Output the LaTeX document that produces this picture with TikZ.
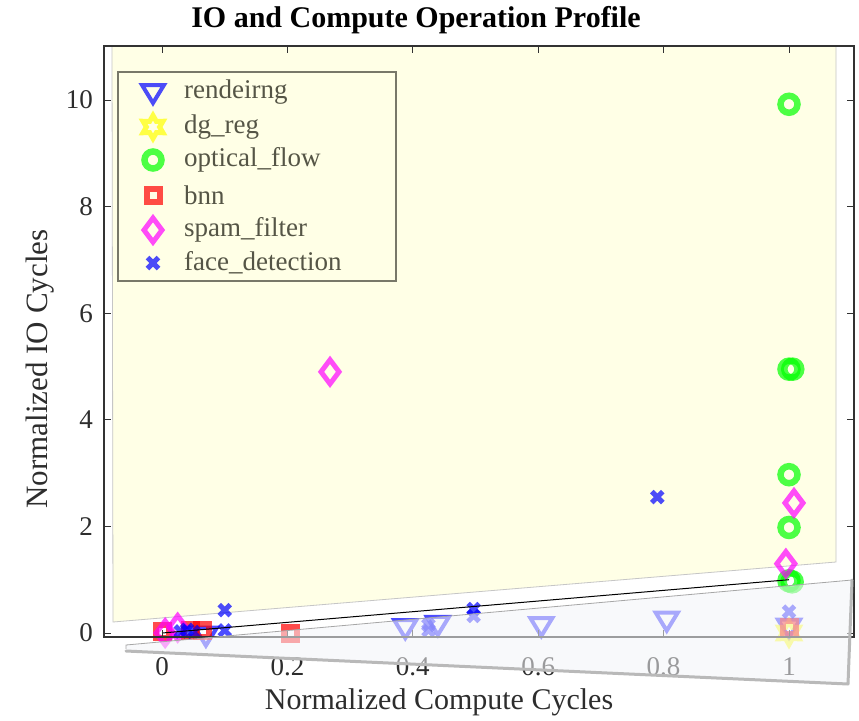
\documentclass[tikz,border=0pt]{standalone}
\usepackage{fontspec}
\setmainfont{Liberation Serif}
\definecolor{paleyellow}{RGB}{255,255,230}
\definecolor{sheetgray}{RGB}{244,245,248}
\definecolor{axcol}{RGB}{50,50,50}
\definecolor{labcol}{RGB}{45,45,45}
\definecolor{legtext}{RGB}{85,85,70}
\definecolor{legedge}{RGB}{120,120,105}
\definecolor{mkblue}{RGB}{0,0,255}
\definecolor{mkgreen}{RGB}{0,255,0}
\definecolor{mkred}{RGB}{255,0,0}
\definecolor{mkmag}{RGB}{255,0,255}
\definecolor{mkyel}{RGB}{255,255,0}
\tikzset{
  mk/.style={line width=#1, draw opacity=0.7, line join=miter},
  pics/tri/.style={code={\draw[mkblue, mk=4pt] (-11pt,7pt) -- (11pt,7pt) -- (0pt,-11pt) -- cycle;}},
  pics/hexa/.style={code={\draw[mkyel, mk=5pt] (90:11.5pt) -- (60:6.6pt) -- (30:11.5pt) -- (0:6.6pt) -- (-30:11.5pt) -- (-60:6.6pt) -- (-90:11.5pt) -- (-120:6.6pt) -- (-150:11.5pt) -- (180:6.6pt) -- (150:11.5pt) -- (120:6.6pt) -- cycle;}},
  pics/circ/.style={code={\draw[mkgreen, mk=6.5pt] (0pt,0pt) circle (8.5pt);}},
  pics/sqr/.style={code={\draw[mkred, mk=6pt] (-6.5pt,-6.5pt) rectangle (6.5pt,6.5pt);}},
  pics/dia/.style={code={\draw[mkmag, mk=5pt] (0pt,12pt) -- (9pt,0pt) -- (0pt,-12pt) -- (-9pt,0pt) -- cycle;}},
  pics/xmk/.style={code={\draw[mkblue, mk=5pt] (-5.5pt,-5.5pt) -- (5.5pt,5.5pt) (-5.5pt,5.5pt) -- (5.5pt,-5.5pt);}},
  ticklab/.style={font=\fontsize{27}{32}\selectfont, text=labcol, inner sep=0pt},
  axlab/.style={font=\fontsize{30}{36}\selectfont, text=labcol, inner sep=0pt},
  legtxt/.style={font=\fontsize{27}{32}\selectfont, text=legtext, anchor=west, inner sep=0pt}
}
\begin{document}
\begin{tikzpicture}[x=1pt,y=-1pt]
\useasboundingbox (0,0) rectangle (859,720);
\fill[white] (0,0) rectangle (859,720);

% shaded region above the diagonal
\filldraw[fill=paleyellow, draw=gray!45, line width=0.8pt]
  (112,46) -- (836,46) -- (836,562) -- (113,622) -- cycle;

% data area: origin at (0,0), unit square up to (1,1)
\begin{scope}[shift={(162,633)}, x={(627pt,0pt)}, y={(0pt,53.3pt)}]
  \coordinate (o) at (0,0);
  \coordinate (e) at (1,1);
  % rendeirng
  \foreach \p in {(0.07,-0.03),(0.388,0.11),(0.44,0.17),(0.605,0.15),(0.805,0.25),(1.0,0.12)}
    \pic at \p {tri};
  % dg_reg
  \pic at (1.0,0.0) {hexa};
  % optical_flow
  \foreach \p in {(1.0,9.92),(1.0,4.95),(1.006,4.95),(1.0,2.97),(1.0,1.98),(1.0,0.98),(1.005,0.96)}
    \pic at \p {circ};
  % bnn
  \foreach \p in {(0.0,0.02),(0.045,0.05),(0.065,0.05),(0.205,0.0),(1.0,0.1)}
    \pic at \p {sqr};
  % spam_filter
  \foreach \p in {(0.005,0.0),(0.025,0.1),(0.268,4.9),(1.008,2.44),(0.995,1.3)}
    \pic at \p {dia};
  % face_detection
  \foreach \p in {(0.03,0.03),(0.04,0.06),(0.05,0.02),(0.1,0.43),(0.1,0.05),(0.425,0.05),(0.425,0.15),(0.497,0.45),(0.497,0.32),(0.79,2.55),(1.0,0.4)}
    \pic at \p {xmk};
  % identity line
  \draw[black, line width=1pt] (o) -- (e);
\end{scope}

% axes box and ticks
\draw[axcol, line width=1.2pt] (104,46) rectangle (854,637);
\foreach \k/\t in {0/0,1/0.2,2/0.4,3/0.6,4/0.8,5/1} {
  \pgfmathsetmacro{\xx}{162+125.4*\k}
  \draw[axcol, line width=1pt] (\xx,637) -- (\xx,630) (\xx,46) -- (\xx,53);
  \node[ticklab] (xt\k) at (\xx,667) {\t};
}
\foreach \k/\t in {0/0,1/2,2/4,3/6,4/8,5/10} {
  \pgfmathsetmacro{\yy}{633-106.6*\k}
  \draw[axcol, line width=1pt] (104,\yy) -- (111,\yy) (854,\yy) -- (847,\yy);
  \node[ticklab, anchor=east] (yt\k) at (93,\yy) {\t};
}

% legend
\draw[fill=paleyellow, draw=legedge, line width=1.2pt] (118,72) rectangle (396,281);
\pic at (153,92) {tri};
\node[legtxt] (l1) at (184,92) {rendeirng};
\pic at (153,127) {hexa};
\node[legtxt] (l2) at (184,127) {dg\_reg};
\pic at (153,160) {circ};
\node[legtxt] (l3) at (184,160) {optical\_flow};
\pic at (153,195) {sqr};
\node[legtxt] (l4) at (184,195) {bnn};
\pic at (153,230) {dia};
\node[legtxt] (l5) at (184,230) {spam\_filter};
\pic at (153,263) {xmk};
\node[legtxt] (l6) at (184,263) {face\_detection};

% axis labels and title
\node[axlab] (xlab) at (439,702) {Normalized Compute Cycles};
\node[axlab, font=\fontsize{31}{36}\selectfont, rotate=90] (ylab) at (40,369) {Normalized IO Cycles};
\node[font=\bfseries\fontsize{30}{36}\selectfont, inner sep=0pt] (title) at (416,20) {IO and Compute Operation Profile};

% translucent sheet below the diagonal
\fill[sheetgray, fill opacity=0.55] (126,645) -- (852,580) -- (848,684) -- (126,651) -- cycle;
\draw[gray!70, line width=0.8pt] (126,649) -- (126,645) -- (852,580);
\draw[gray!55, line width=3pt, line join=round, line cap=round] (126,651) -- (848,684) -- (852,580);
\end{tikzpicture}
\end{document}
